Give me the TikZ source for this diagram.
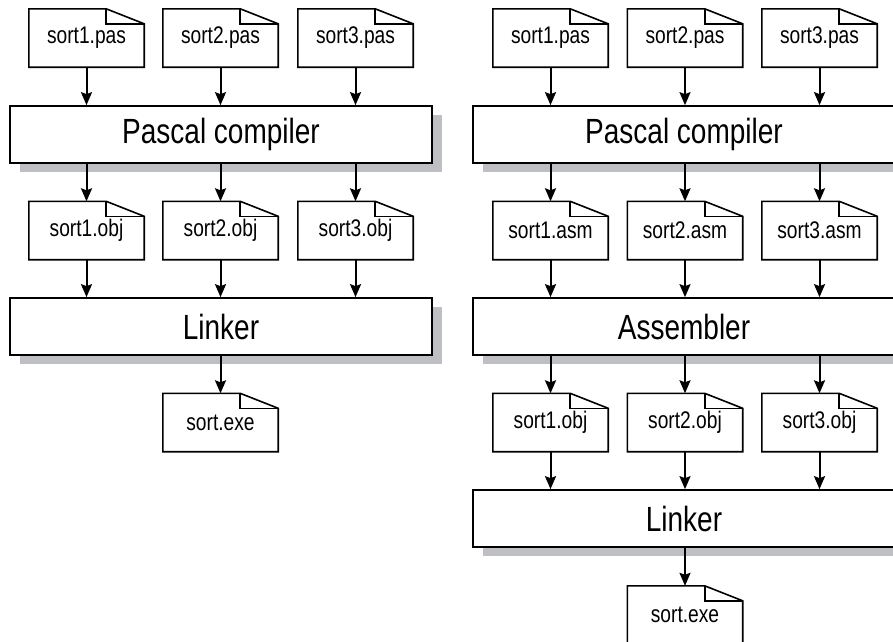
\documentclass[tikz,border=0pt]{standalone}
\usepackage{fontspec}
\setmainfont[FakeStretch=0.8]{Liberation Sans}
\usetikzlibrary{arrows.meta,shadows}
\definecolor{shadowgray}{RGB}{190,191,195}
\tikzset{
  doc/.style={minimum width=115pt, minimum height=58pt, inner sep=0pt,
    font=\fontsize{24}{28}\selectfont},
  docline/.style={line width=1.6pt, line join=miter},
  proc/.style={draw, line width=1.7pt, fill=white, minimum width=422pt,
    minimum height=57pt, inner sep=0pt, font=\fontsize{35}{42}\selectfont,
    drop shadow={shadow xshift=9.5pt, shadow yshift=-9pt, opacity=1, fill=shadowgray, draw=none}},
  flow/.style={line width=2pt, -{Stealth[length=13pt,width=11pt,inset=2pt]}}
}
\newcommand\docnode[4]{%
  \node[doc] (#1) at (#2,#3) {#4};
  \draw[docline] (#1.south west) -- (#1.north west) -- ([xshift=-38pt]#1.north east)
    -- ([yshift=-15pt]#1.north east) -- (#1.south east) -- cycle;
  \draw[docline] ([xshift=-38pt]#1.north east) |- ([yshift=-15pt]#1.north east);
}
\begin{document}
\begin{tikzpicture}[x=1pt,y=-1pt]
\useasboundingbox (0,0) rectangle (893,641);
\clip (0,0) rectangle (893,641);
% ---------- left ----------
\docnode{lp1}{86.5}{38}{sort1.pas}
\docnode{lp2}{220.5}{38}{sort2.pas}
\docnode{lp3}{355.5}{38}{sort3.pas}
\node[proc] (lpc) at (221,134.5) {Pascal compiler};
\docnode{lo1}{86.5}{230.5}{sort1.obj}
\docnode{lo2}{220.5}{230.5}{sort2.obj}
\docnode{lo3}{355.5}{230.5}{sort3.obj}
\node[proc] (llk) at (221,326.5) {Linker};
\docnode{lexe}{220.5}{422.5}{sort.exe}
\foreach \i in {1,2,3}{
  \draw[flow] (lp\i.south) -- (lp\i.south |- lpc.north);
  \draw[flow] (lo\i.north |- lpc.south) -- (lo\i.north);
  \draw[flow] (lo\i.south) -- (lo\i.south |- llk.north);
}
\draw[flow] (lexe.north |- llk.south) -- (lexe.north);
% ---------- right ----------
\docnode{rp1}{550.5}{38}{sort1.pas}
\docnode{rp2}{685}{38}{sort2.pas}
\docnode{rp3}{819.5}{38}{sort3.pas}
\node[proc] (rpc) at (684,134.5) {Pascal compiler};
\docnode{ra1}{550.5}{230.5}{sort1.asm}
\docnode{ra2}{685}{230.5}{sort2.asm}
\docnode{ra3}{819.5}{230.5}{sort3.asm}
\node[proc] (ras) at (684,326.5) {Assembler};
\docnode{ro1}{550.5}{422.5}{sort1.obj}
\docnode{ro2}{685}{422.5}{sort2.obj}
\docnode{ro3}{819.5}{422.5}{sort3.obj}
\node[proc] (rlk) at (684,518.5) {Linker};
\docnode{rexe}{685}{615}{sort.exe}
\foreach \i in {1,2,3}{
  \draw[flow] (rp\i.south) -- (rp\i.south |- rpc.north);
  \draw[flow] (ra\i.north |- rpc.south) -- (ra\i.north);
  \draw[flow] (ra\i.south) -- (ra\i.south |- ras.north);
  \draw[flow] (ro\i.north |- ras.south) -- (ro\i.north);
  \draw[flow] (ro\i.south) -- (ro\i.south |- rlk.north);
}
\draw[flow] (rexe.north |- rlk.south) -- (rexe.north);
\end{tikzpicture}
\end{document}
